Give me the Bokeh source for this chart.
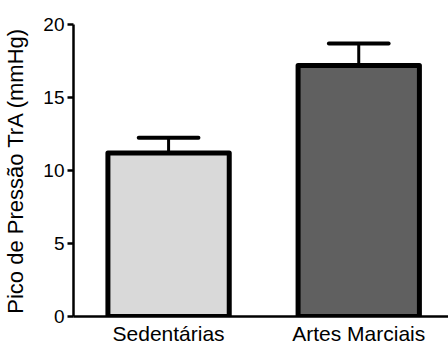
from bokeh.plotting import figure
from bokeh.models import Range1d, FixedTicker, ColumnDataSource
from bokeh.embed import file_html
from bokeh.resources import INLINE

categories = ["Sedentárias", "Artes Marciais"]
means = [11.2, 17.2]
sems = [1.05, 1.5]
colors = ["#d9d9d9", "#606060"]
y_ticks = [0, 5, 10, 15, 20]

xs = [i + 0.5 for i in range(len(categories))]
tops = [m + s for m, s in zip(means, sems)]

p = figure(width=448, height=347, output_backend="svg", toolbar_location=None,
           x_range=Range1d(0, 1.972), y_range=Range1d(0, 20),
           min_border_left=72, min_border_right=0, min_border_top=24, min_border_bottom=30)
p.outline_line_color = None
p.xgrid.visible = False
p.ygrid.visible = False
p.background_fill_color = "white"

src = ColumnDataSource(dict(x=xs, top=means, color=colors, et=tops,
                            x0=[x - 0.157 for x in xs], x1=[x + 0.157 for x in xs]))

p.segment(x0="x", y0="top", x1="x", y1="et", source=src, line_color="black", line_width=3)
p.segment(x0="x0", y0="et", x1="x1", y1="et", source=src, line_color="black", line_width=4,
          line_cap="round")
p.vbar(x="x", top="top", bottom=0, width=0.638, source=src, fill_color="color",
       line_color="black", line_width=5, line_join="round")

p.xaxis.ticker = FixedTicker(ticks=xs)
p.xaxis.major_label_overrides = {x: c for x, c in zip(xs, categories)}
p.xaxis.major_tick_line_color = None
p.xaxis.minor_tick_line_color = None
p.xaxis.major_tick_out = 0
p.xaxis.major_label_standoff = 5
p.xaxis.major_label_text_font = "Liberation Sans"
p.xaxis.major_label_text_font_size = "21px"
p.xaxis.major_label_text_color = "black"
p.xaxis.axis_line_width = 2.5
p.xaxis.axis_line_color = "black"

p.yaxis.ticker = FixedTicker(ticks=y_ticks)
p.yaxis.minor_tick_line_color = None
p.yaxis.major_tick_out = 6
p.yaxis.major_tick_in = 0
p.yaxis.major_tick_line_width = 2.5
p.yaxis.major_label_standoff = 3
p.yaxis.major_label_text_font = "Liberation Sans"
p.yaxis.major_label_text_font_size = "19px"
p.yaxis.major_label_text_color = "black"
p.yaxis.axis_line_width = 2.5
p.yaxis.axis_line_color = "black"
p.yaxis.axis_label = "Pico de Pressão TrA (mmHg)"
p.yaxis.axis_label_text_font = "Liberation Sans"
p.yaxis.axis_label_text_font_style = "normal"
p.yaxis.axis_label_text_font_size = "22px"
p.yaxis.axis_label_text_color = "black"
p.yaxis.axis_label_standoff = 12

open("out.html", "w").write(file_html(p, INLINE))
